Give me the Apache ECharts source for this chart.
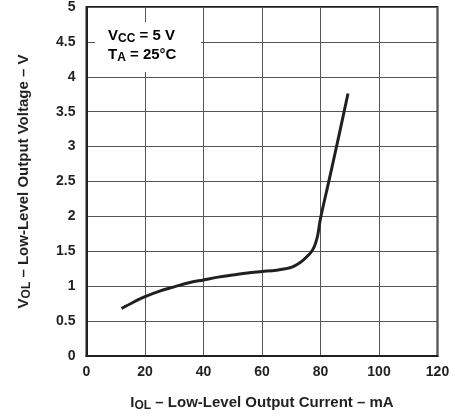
<!DOCTYPE html>
<html>
<head>
<meta charset="utf-8">
<script src="https://cdn.jsdelivr.net/npm/echarts@6/dist/echarts.min.js"></script>
<style>
html,body{margin:0;padding:0;background:#fff;}
#c{width:455px;height:417px;}
</style>
</head>
<body>
<div id="c"></div>
<script>
var currentMA = [12, 16, 20, 25, 30, 35, 40, 45, 50, 55, 60, 65, 68, 70, 72, 74, 76, 77, 78, 79, 80, 83, 86, 89.4];
var voltageV  = [0.68, 0.77, 0.85, 0.93, 0.99, 1.05, 1.09, 1.13, 1.16, 1.19, 1.21, 1.23, 1.25, 1.27, 1.31, 1.37, 1.45, 1.5, 1.58, 1.72, 1.97, 2.53, 3.1, 3.76];
var xTicks = [0, 20, 40, 60, 80, 100, 120];
var yTicks = [0, 0.5, 1, 1.5, 2, 2.5, 3, 3.5, 4, 4.5, 5];

var FONT = "'Liberation Sans', Arial, Helvetica, sans-serif";
var INK = '#231f20';
var chart = echarts.init(document.getElementById('c'));
var pts = currentMA.map(function (x, i) { return [x, voltageV[i]]; });

var nameRich = {
  b: { fontFamily: FONT, fontWeight: 'bold', fontSize: 15, color: INK },
  s: { fontFamily: FONT, fontWeight: 'bold', fontSize: 12, color: INK, padding: [6, 0, 0, 0] }
};

chart.setOption({
  animation: false,
  grid: { left: 86.5, right: 17.5, top: 7, bottom: 59.5, show: true, borderColor: INK, borderWidth: 2, containLabel: false },
  xAxis: {
    type: 'value', min: xTicks[0], max: xTicks[xTicks.length - 1], interval: 20,
    axisLine: { show: true, lineStyle: { color: INK, width: 2 } },
    axisTick: { show: false },
    splitLine: { show: true, lineStyle: { color: '#555', width: 1 } },
    axisLabel: { margin: 9, color: INK, fontFamily: FONT, fontWeight: 'bold', fontSize: 14 },
    name: '{b|I}{s|OL}{b| – Low-Level Output Current – mA}',
    nameLocation: 'middle', nameGap: 38,
    nameTextStyle: { rich: nameRich }
  },
  yAxis: {
    type: 'value', min: yTicks[0], max: yTicks[yTicks.length - 1], interval: 0.5,
    axisLine: { show: true, lineStyle: { color: INK, width: 2 } },
    axisTick: { show: false },
    splitLine: { show: true, lineStyle: { color: '#555', width: 1 } },
    axisLabel: { margin: 11, color: INK, fontFamily: FONT, fontWeight: 'bold', fontSize: 14 },
    name: '{b|V}{s|OL}{b| – Low-Level Output Voltage – V}',
    nameLocation: 'middle', nameGap: 54, nameRotate: 90,
    nameTextStyle: { rich: nameRich }
  },
  series: [{
    type: 'line', data: pts, showSymbol: false, smooth: 0.35,
    lineStyle: { color: INK, width: 3 }
  }],
  graphic: [
    { type: 'rect', shape: { x: 95, y: 22, width: 106, height: 50 }, style: { fill: '#fff' }, z: 10 },
    { type: 'text', left: 108, top: 27, z: 11,
      style: {
        text: '{b|V}{s|CC}{b| = 5 V}\n{b|T}{s|A}{b| = 25°C}',
        rich: {
          b: { fontFamily: FONT, fontWeight: 'bold', fontSize: 15, color: INK, lineHeight: 19 },
          s: { fontFamily: FONT, fontWeight: 'bold', fontSize: 12, color: INK, padding: [6, 0, 0, 0], lineHeight: 19 }
        }
      }
    }
  ]
});
</script>
</body>
</html>
